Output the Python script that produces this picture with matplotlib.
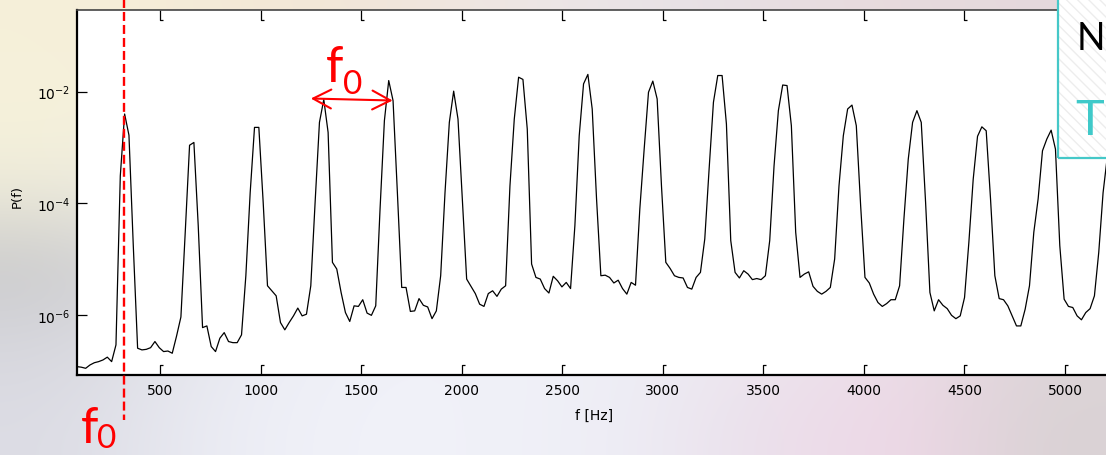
import numpy as np
import matplotlib
matplotlib.use("Agg")
import matplotlib.pyplot as plt
from matplotlib import font_manager
from matplotlib.path import Path
from matplotlib.transforms import blended_transform_factory
from matplotlib.patches import Rectangle
from matplotlib.ticker import FixedLocator, NullLocator, LogFormatterSciNotation

# ---------------- data ----------------
# FFT bins: fs = 44100 Hz, N = 2048  ->  bin width 21.53 Hz, first plotted bin = 4
bin_width_hz = 44100 / 2048
first_bin = 4
log10_power = [
    -6.93, -6.94, -6.96, -6.90, -6.86, -6.84, -6.81, -6.76, -6.84, -6.54,
    -3.51, -2.40, -2.78, -4.76, -6.60, -6.63, -6.62, -6.59, -6.48, -6.59,
    -6.66, -6.65, -6.69, -6.38, -6.04, -4.52, -2.96, -2.91, -4.40, -6.23,
    -6.20, -6.57, -6.66, -6.42, -6.32, -6.48, -6.50, -6.50, -6.36, -5.30,
    -3.81, -2.64, -2.64, -3.98, -5.48, -5.57, -5.66, -6.14, -6.27, -6.14,
    -6.02, -5.88, -6.02, -5.99, -5.48, -3.98, -2.55, -2.14, -2.73, -5.06,
    -5.18, -5.60, -5.96, -6.12, -5.84, -5.85, -5.73, -5.97, -6.01, -5.84,
    -4.10, -2.52, -1.80, -2.16, -3.81, -5.51, -5.51, -5.94, -5.93, -5.71,
    -5.83, -5.86, -6.07, -5.93, -5.30, -3.81, -2.55, -1.99, -2.49, -3.92,
    -5.36, -5.49, -5.62, -5.81, -5.85, -5.62, -5.57, -5.67, -5.54, -5.48,
    -3.69, -2.49, -1.74, -1.78, -2.67, -5.09, -5.33, -5.36, -5.53, -5.61,
    -5.31, -5.39, -5.50, -5.42, -5.53, -4.40, -2.79, -1.86, -1.69, -2.31,
    -3.92, -5.30, -5.29, -5.33, -5.43, -5.38, -5.53, -5.63, -5.42, -5.47,
    -4.10, -3.03, -2.01, -1.81, -2.13, -3.69, -5.06, -5.17, -5.30, -5.33,
    -5.34, -5.51, -5.54, -5.33, -5.24, -4.64, -3.39, -2.19, -1.71, -1.71,
    -2.58, -4.67, -5.24, -5.34, -5.21, -5.27, -5.37, -5.35, -5.37, -5.30,
    -4.67, -3.33, -2.34, -1.88, -1.89, -2.61, -4.52, -5.33, -5.27, -5.23,
    -5.49, -5.58, -5.63, -5.58, -5.51, -5.00, -3.69, -2.79, -2.31, -2.24,
    -2.61, -4.04, -5.33, -5.43, -5.63, -5.78, -5.85, -5.80, -5.73, -5.73,
    -5.48, -4.28, -3.21, -2.55, -2.34, -2.55, -3.98, -5.60, -5.93, -5.73,
    -5.83, -5.89, -6.01, -6.07, -6.02, -5.69, -4.70, -3.57, -2.80, -2.63,
    -2.70, -3.92, -5.30, -5.71, -5.73, -5.84, -6.02, -6.20, -6.20, -5.90,
    -5.48, -4.52, -3.92, -3.06, -2.85, -2.69, -3.03, -4.76, -5.72, -5.85,
    -5.87, -6.02, -6.09, -5.96, -5.89, -5.66, -4.88, -3.81, -3.15,
]
freq_hz = bin_width_hz * np.arange(first_bin, first_bin + len(log10_power))
power = 10.0 ** np.array(log10_power)

x_ticks = [500, 1000, 1500, 2000, 2500, 3000, 3500, 4000, 4500, 5000]
y_ticks = [1e-6, 1e-4, 1e-2]
x_range = [first_bin * bin_width_hz, 5204]
y_range = [10 ** -7.08, 10 ** -0.535]

f0_marker_hz = 320
spacing_arrow_hz = [1249, 1656]
spacing_arrow_power = [10 ** -2.122, 10 ** -2.158]


def font_available(name):
    try:
        font_manager.findfont(font_manager.FontProperties(family=name),
                              fallback_to_default=False)
        return True
    except Exception:
        return False


HAS_NARROW = font_available("Liberation Sans Narrow")

# ---------------- figure ----------------
W, H = 1106, 456
fig = plt.figure(figsize=(W / 100, H / 100), dpi=100)

# blurred slide background
bg_colors = np.array([
    ["#F6F0DA", "#F5EAD6", "#F2E6D6", "#EFE6E2", "#EAE4E8", "#E6DEE2", "#E8DADC", "#E4D8DC"],
    ["#F6F2DA", "#F2EEE4", "#F0EEEA", "#EEEEEE", "#ECEAEE", "#EAE6EA", "#E8E2E6", "#E4DEE2"],
    ["#EEEBDA", "#EEEEEC", "#EEEEF0", "#EEEEF2", "#ECECF2", "#EAE8EE", "#E8E4EA", "#E4E0E4"],
    ["#C9C9CA", "#E2E2E6", "#EEEEF4", "#EEEFF6", "#ECEDF4", "#EAE6EE", "#E6DEE6", "#DCD6DA"],
    ["#D6D6DC", "#E8E9F0", "#F0F1F8", "#F0F1F8", "#EEEFF6", "#ECE6EE", "#EEDDE8", "#DDD5D8"],
    ["#DCDCE4", "#EBECF4", "#F1F2F9", "#F0F1F8", "#EEEEF6", "#EADFEA", "#F0D8E8", "#D9D2D4"],
])
rgb = np.array([[matplotlib.colors.to_rgb(c) for c in row] for row in bg_colors])
bg = fig.add_axes([0, 0, 1, 1], zorder=-10)
bg.imshow(rgb, aspect="auto", interpolation="bicubic", extent=[0, 1, 0, 1])
bg.set_axis_off()

ax = fig.add_axes([77 / W, 1 - 376 / H, (W - 77) / W, 365 / H])
ax.set_facecolor("white")
ax.plot(freq_hz, power, color="black", lw=0.9, zorder=3)

ax.set_yscale("log")
ax.set_xlim(x_range)
ax.set_ylim(y_range)
ax.xaxis.set_major_locator(FixedLocator(x_ticks))
ax.xaxis.set_minor_locator(NullLocator())
ax.yaxis.set_major_locator(FixedLocator(y_ticks))
ax.yaxis.set_minor_locator(NullLocator())
ax.yaxis.set_major_formatter(LogFormatterSciNotation())

ax.tick_params(axis="x", direction="in", top=True, bottom=True, length=7.5,
               width=0.9, labelsize=10, pad=6, colors="black")
ax.tick_params(axis="y", direction="in", left=True, right=False, length=7.5,
               width=0.9, labelsize=10, pad=5, colors="black")

ax.spines["right"].set_visible(False)
ax.spines["top"].set_color("#444444")
ax.spines["top"].set_linewidth(1.2)
for s in ("left", "bottom"):
    ax.spines[s].set_color("black")
    ax.spines[s].set_linewidth(1.6)

ax.set_xlabel("f [Hz]", fontsize=10)
ax.xaxis.label.set_va("center")
ax.xaxis.set_label_coords((594 - 77) / (W - 77), (376 - 415.8) / 365)
ax.set_ylabel("P(f)", fontsize=9.5)
ax.yaxis.label.set_va("center")
ax.yaxis.set_label_coords((17 - 77) / (W - 77), (376 - 196) / 365)

# "[" shaped x ticks (small hook at the inner end)
hook_up = Path([(0, 0), (0, 1), (0.28, 1)], [Path.MOVETO, Path.LINETO, Path.LINETO])
hook_down = Path([(0, 0), (0, -1), (0.28, -1)], [Path.MOVETO, Path.LINETO, Path.LINETO])
for t in ax.xaxis.get_major_ticks(len(x_ticks)):
    t.tick1line.set_marker(hook_up)
    t.tick2line.set_marker(hook_down)
    for ln in (t.tick1line, t.tick2line):
        ln.set_markersize(15)
        ln.set_markerfacecolor("none")
        ln.set_markeredgewidth(0.9)

# red f0 marker line (from top of the slide down past the axis)
trans = blended_transform_factory(ax.transData, fig.transFigure)
ax.plot([f0_marker_hz, f0_marker_hz], [1.0, 1 - 421 / H], transform=trans,
        color="#FF0000", lw=1.7, dashes=(3.8, 1.7), clip_on=False, zorder=6)

# double arrow showing harmonic spacing
ax.annotate("", xy=(spacing_arrow_hz[1], spacing_arrow_power[1]),
            xytext=(spacing_arrow_hz[0], spacing_arrow_power[0]),
            arrowprops=dict(arrowstyle="<->,head_length=1.3,head_width=0.68",
                            color="#FF0000", lw=1.5, shrinkA=0, shrinkB=0,
                            mutation_scale=10), zorder=6)

# f0 labels
zero_family = ["Liberation Sans Narrow", "Lato", "DejaVu Sans"] if HAS_NARROW else ["Lato", "DejaVu Sans"]
zero_size = 28 if HAS_NARROW else 24


def f0_label(xf, yf_base, x0, y0_base):
    fig.text(xf / W, 1 - yf_base / H, "f", fontsize=36, family=["Lato", "DejaVu Sans"],
             color="#FF0000", va="baseline", ha="left", zorder=8)
    fig.text(x0 / W, 1 - y0_base / H, "0", fontsize=zero_size, family=zero_family,
             color="#FF0000", va="baseline", ha="left", zorder=8)


f0_label(326, 82, 343, 94)
f0_label(81, 443, 97, 448)

# partially visible slide box at top right
plt.rcParams["hatch.linewidth"] = 1.0
fig.patches.append(Rectangle((1057.5 / W, 1 - 158.5 / H), 60 / W, 175 / H,
                             transform=fig.transFigure, facecolor="white",
                             edgecolor="#EDEDED", hatch="\\\\\\", lw=0, zorder=9))
fig.patches.append(Rectangle((1057.5 / W, 1 - 158.5 / H), 60 / W, 175 / H,
                             transform=fig.transFigure, facecolor="none",
                             edgecolor="#45C8C8", lw=1.6, zorder=10))
if HAS_NARROW:
    fig.text(1077 / W, 1 - 50 / H, "N", fontsize=35,
             family=["Liberation Sans Narrow", "DejaVu Sans"],
             color="black", va="baseline", ha="left", zorder=11)
else:
    fig.text(1077 / W, 1 - 50 / H, "N", fontsize=27, family=["Lato", "DejaVu Sans"],
             color="black", va="baseline", ha="left", zorder=11)
fig.text(1075 / W, 1 - 135 / H, "T", fontsize=35, family=["Lato", "DejaVu Sans"],
         color="#3FC9C9", va="baseline", ha="left", zorder=11)

fig.savefig("out.png", dpi=100)
